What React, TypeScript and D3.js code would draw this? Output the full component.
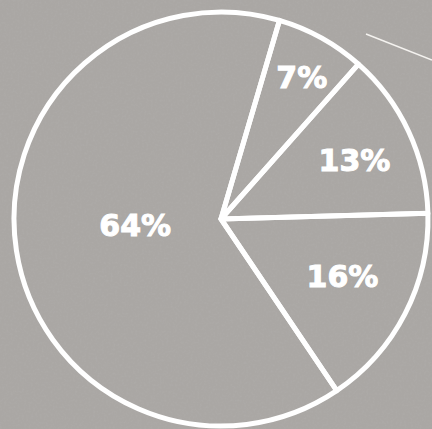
import React from "react";
import * as d3 from "d3";

const categories = ["A", "B", "C", "D"];
const values = [7, 13, 16, 64];
const labels = ["7%", "13%", "16%", "64%"];

const W = 432;
const H = 429;
const cx = 221;
const cy = 219;
const R = 207;
const startDeg = 16.4;
// label placement (radius, angle nudge in degrees) relative to slice middle
const labelRadii = [163, 146, 134, 86];
const labelNudge = [0.7, 1.1, -2.2, 4.7];

export default function App() {
  const pie = d3
    .pie<number>()
    .sort(null)
    .value((d) => d)
    .startAngle((startDeg * Math.PI) / 180)
    .endAngle(((startDeg + 360) * Math.PI) / 180);
  const arcs = pie(values);
  const arcGen = d3.arc<d3.PieArcDatum<number>>().innerRadius(0).outerRadius(R);

  return (
    <svg
      width={W}
      height={H}
      style={{ position: "absolute", left: 0, top: 0 }}
      viewBox={`0 0 ${W} ${H}`}
    >
      <defs>
        <filter id="grain" x="0" y="0" width="100%" height="100%">
          <feTurbulence type="fractalNoise" baseFrequency="0.45" numOctaves="2" seed="4" result="n" />
          <feColorMatrix
            in="n"
            type="matrix"
            values="0 0 0 0 0.45  0 0 0 0 0.44  0 0 0 0 0.43  0 0 0 -2.2 1.25"
          />
        </filter>
      </defs>
      <rect x={0} y={0} width={W} height={H} fill="#aaa7a4" />
      <rect x={0} y={0} width={W} height={H} filter="url(#grain)" opacity={0.35} />
      <line x1={366} y1={34} x2={432} y2={60} stroke="#f4f2ef" strokeWidth={1.6} />
      <g transform={`translate(${cx},${cy})`}>
        {arcs.map((a, i) => (
          <path
            key={categories[i]}
            d={arcGen(a) || ""}
            fill="none"
            stroke="#ffffff"
            strokeWidth={5}
            strokeLinejoin="round"
          />
        ))}
        {arcs.map((a, i) => {
          const mid = (a.startAngle + a.endAngle) / 2 + (labelNudge[i] * Math.PI) / 180;
          const r = labelRadii[i];
          const x = Math.sin(mid) * r;
          const y = -Math.cos(mid) * r;
          return (
            <text
              key={"l" + categories[i]}
              x={x}
              y={y + 11}
              textAnchor="middle"
              fill="#ffffff"
              stroke="#ffffff"
              strokeWidth={1}
              fontFamily="'DejaVu Sans', sans-serif"
              fontWeight={700}
              fontSize={30}
            >
              {labels[i]}
            </text>
          );
        })}
      </g>
    </svg>
  );
}
